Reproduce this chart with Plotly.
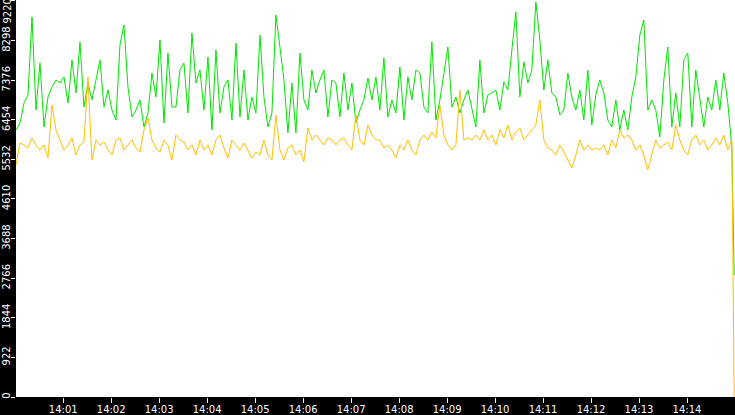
import pandas as pd
import plotly.graph_objects as go

# ---- data ----
green_values = [
    6217, 6379, 6845, 7032, 8847, 6682, 7777, 6286, 6985, 7218,
    7381, 7311, 7450, 6845, 7846, 7078, 8265, 6752, 7311, 6915,
    7381, 7846, 6752, 7148, 6682, 6449, 8196, 8661, 7218, 6519,
    6682, 6915, 6286, 6612, 7544, 6985, 8312, 6379, 8009, 6752,
    6752, 7613, 7777, 6612, 8475, 7311, 7613, 6682, 7916, 6217,
    8079, 6612, 7218, 7381, 6449, 8242, 6519, 7613, 6449, 6985,
    6612, 8428, 6985, 6286, 6612, 8894, 8149, 7381, 6147, 7311,
    6147, 8009, 6915, 6682, 7613, 7078, 7381, 7613, 6519, 7381,
    7311, 6519, 7544, 6682, 7311, 6379, 6682, 6915, 7427, 6915,
    7450, 6682, 7893, 6519, 6915, 6612, 7683, 6449, 7450, 6915,
    7613, 7544, 6752, 6612, 8265, 6449, 6915, 7544, 8149, 6752,
    6985, 6612, 6915, 7148, 6682, 6286, 7846, 6612, 7032, 7078,
    7148, 6682, 7334, 7148, 8079, 8964, 6985, 7800, 7311, 7613,
    9200, 8312, 7148, 7846, 7078, 6985, 6566, 6682, 7544, 6985,
    6682, 7148, 6449, 7613, 6333, 7032, 7381, 7078, 6449, 6286,
    6915, 6217, 6682, 6217, 6985, 7450, 8428, 8777, 6682, 6915,
    6682, 6054, 7381, 8149, 6286, 7078, 6286, 7846, 8009, 6286,
    7613, 6985, 6286, 6985, 6682, 7381, 6682, 7544, 6845, 5821,
    2840,
]

orange_values = [
    5402, 5914, 5868, 5798, 6030, 5868, 5751, 5868, 5565, 6799,
    6217, 5984, 5751, 5868, 6030, 5635, 5868, 5937, 7450, 5518,
    5984, 5868, 5937, 5751, 5635, 5984, 6030, 5751, 5868, 5984,
    5798, 5704, 6217, 6496, 5984, 5798, 5704, 5984, 5868, 5518,
    6100, 5984, 5937, 5751, 5868, 5635, 5984, 5751, 5868, 5635,
    5984, 6100, 5798, 5565, 5984, 5868, 5751, 5914, 5751, 5565,
    5704, 5635, 5984, 5635, 5518, 6566, 5751, 5518, 5798, 5868,
    5635, 5751, 5472, 6263, 5984, 6100, 5984, 5868, 6030, 5984,
    5868, 5984, 6030, 5868, 5751, 6566, 5984, 5868, 6333, 6100,
    5984, 5984, 5798, 5868, 5751, 5565, 5868, 5751, 5984, 5751,
    5635, 5984, 6100, 5984, 6170, 6030, 6799, 6100, 5868, 5751,
    5868, 7148, 5984, 6030, 5984, 6100, 5984, 6217, 5984, 6100,
    5868, 6217, 6030, 6333, 5984, 6170, 6263, 5984, 6100, 6217,
    6333, 6915, 5984, 5798, 5751, 5635, 5868, 5704, 5518, 5332,
    5635, 5984, 5751, 5868, 5751, 5798, 5751, 5868, 5635, 5984,
    5798, 6217, 6030, 6100, 5984, 5751, 5868, 5635, 5285, 5635,
    5984, 5798, 5868, 5937, 5751, 6333, 5984, 5751, 5635, 5984,
    6100, 5868, 5984, 5751, 5868, 6030, 5868, 6100, 5751, 5984,
    0,
]

y_ticks = [0, 922, 1844, 2766, 3688, 4610, 5532, 6454, 7376, 8298, 9220]
x_tick_labels = ["14:01", "14:02", "14:03", "14:04", "14:05", "14:06", "14:07",
                 "14:08", "14:09", "14:10", "14:11", "14:12", "14:13", "14:14"]

# timestamps: one sample every 5 s from 14:00:01, last sample at 14:14:59
times = list(pd.date_range("2024-01-01 14:00:01", periods=len(green_values) - 1, freq="5s"))
times.append(pd.Timestamp("2024-01-01 14:14:59"))
tick_times = [pd.Timestamp("2024-01-01 " + t + ":00") for t in x_tick_labels]

Y_RANGE = [0, 9243]

fig = go.Figure()
fig.add_trace(go.Scatter(x=times, y=green_values, mode="lines",
                         line=dict(color="#00e600", width=1), hoverinfo="skip"))
fig.add_trace(go.Scatter(x=times, y=orange_values, mode="lines",
                         line=dict(color="#ffbf00", width=1), hoverinfo="skip"))

font = dict(family="DejaVu Sans", size=10, color="white")
common = dict(showgrid=False, zeroline=False, showline=False, automargin=False,
              tickcolor="white", tickwidth=1, tickfont=font, ticks="outside")

# top tick label would be cut at the page edge; its text is placed just below the tick
y_tick_text = [str(v) for v in y_ticks[:-1]] + [""]

fig.update_layout(
    template="none",
    width=735, height=415,
    margin=dict(l=16, r=0, t=0, b=18, pad=0, autoexpand=False),
    paper_bgcolor="black", plot_bgcolor="white",
    showlegend=False,
    xaxis=dict(
        type="date",
        range=[pd.Timestamp("2024-01-01 14:00:01"), pd.Timestamp("2024-01-01 14:15:00")],
        tickvals=tick_times, ticktext=x_tick_labels,
        ticklen=5, ticklabelstandoff=-2,
        **common,
    ),
    yaxis=dict(
        range=Y_RANGE,
        tickvals=y_ticks, ticktext=y_tick_text,
        ticklen=4, tickangle=-90, ticklabelstandoff=-3,
        **common,
    ),
    annotations=[dict(
        text=str(y_ticks[-1]), showarrow=False, textangle=-90,
        xref="paper", x=0, xanchor="center", xshift=-9,
        yref="paper", y=1, yanchor="top", yshift=1,
        borderpad=0, borderwidth=0,
        font=font,
    )],
)

fig.write_html(
    "out.html",
    config={"displayModeBar": False},
    post_script="document.body.style.margin='0px'; document.body.style.overflow='hidden'; document.body.style.background='black';",
)
